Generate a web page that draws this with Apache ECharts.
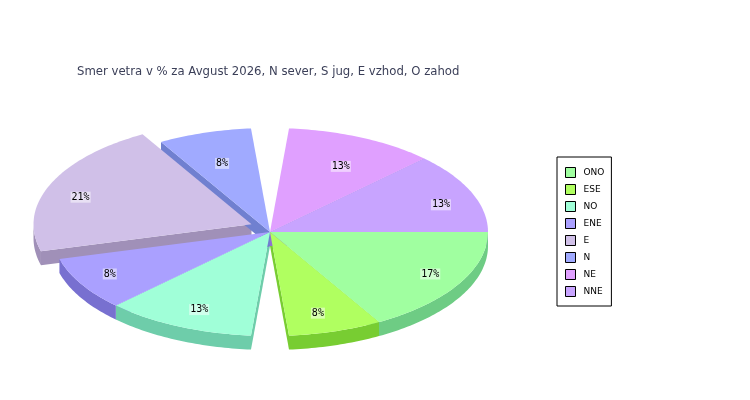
<!DOCTYPE html>
<html><head><meta charset="utf-8">
<script src="https://cdn.jsdelivr.net/npm/echarts@6/dist/echarts.min.js"></script>
<style>html,body{margin:0;padding:0;background:#fff}#c{width:750px;height:400px}</style>
</head><body><div id="c"></div>
<script>
// ---- data ----
const categories = ['ONO', 'ESE', 'NO', 'ENE', 'E', 'N', 'NE', 'NNE'];
const counts = [4, 2, 3, 2, 5, 2, 3, 3];
const titleText = 'Smer vetra v % za Avgust 2026, N sever, S jug, E vzhod, O zahod';

// ---- styles ----
const topColors = ['#a0ffa0', '#b0ff60', '#a0ffd8', '#aaa0ff', '#d0c0e8', '#a0aaff', '#e0a0ff', '#c8a4ff'];
const sideColors = ['#6ecc84', '#78cd32', '#6ecdaa', '#7870d0', '#a090b8', '#7080d0', '#a070c8', '#9070d0'];
const explode = [0, 0, 0, 0, 20, 0, 0, 0];
const PIE = { cx: 270, cy: 232, rx: 218, ry: 104, depth: 14, seam: 5, lx: 185, lyDown: 84, lyUp: 71 };

function lighten(hex, t) {
  const n = parseInt(hex.slice(1), 16);
  const r = n >> 16, g = (n >> 8) & 255, b = n & 255;
  const f = c => Math.round(c + (255 - c) * t);
  return 'rgb(' + f(r) + ',' + f(g) + ',' + f(b) + ')';
}

const total = counts.reduce((a, b) => a + b, 0);
const starts = [];
(function () { let acc = 0; counts.forEach(v => { starts.push(acc / total * 360); acc += v; }); })();

function renderSlice(params, api) {
  const i = api.value(0);
  const span = counts[i] / total * 360;
  let s = starts[i], e = starts[i] + span;
  const onSeam = a => Math.abs(a - 90) < 1e-6 || Math.abs(a - 270) < 1e-6;
  if (onSeam(s)) s += PIE.seam;
  if (onSeam(e)) e -= PIE.seam;
  const mid = starts[i] + span / 2;
  const rad = d => d * Math.PI / 180;
  const cx = PIE.cx + explode[i] * Math.cos(rad(mid));
  const cy = PIE.cy + explode[i] * Math.sin(rad(mid));
  const D = PIE.depth;
  const P = (a, dz) => [cx + PIE.rx * Math.cos(rad(a)), cy + PIE.ry * Math.sin(rad(a)) + (dz || 0)];
  const arc = (a0, a1, dz) => {
    const pts = []; const n = Math.max(2, Math.ceil(Math.abs(a1 - a0)));
    for (let k = 0; k <= n; k++) pts.push(P(a0 + (a1 - a0) * k / n, dz));
    return pts;
  };
  const children = [];
  if (Math.cos(rad(s)) < 0) children.push({ type: 'polygon', z2: 1, shape: { points: [[cx, cy], P(s), P(s, D), [cx, cy + D]] }, style: { fill: sideColors[i] } });
  if (Math.cos(rad(e)) > 0) children.push({ type: 'polygon', z2: 1, shape: { points: [[cx, cy], P(e), P(e, D), [cx, cy + D]] }, style: { fill: sideColors[i] } });
  const a0 = Math.max(s, 0), a1 = Math.min(e, 180);
  if (a1 > a0) children.push({ type: 'polygon', z2: 2, shape: { points: arc(a0, a1, 0).concat(arc(a1, a0, D)) }, style: { fill: sideColors[i] } });
  children.push({ type: 'polygon', z2: 10, shape: { points: [[cx, cy]].concat(arc(s, e, 0)) }, style: { fill: topColors[i] } });
  const m = rad(mid), sn = Math.sin(m);
  children.push({
    type: 'text', z2: 20,
    style: {
      x: cx + PIE.lx * Math.cos(m), y: cy + sn * (sn > 0 ? PIE.lyDown : PIE.lyUp),
      text: Math.round(counts[i] / total * 100) + '%',
      align: 'center', verticalAlign: 'middle',
      font: '10px "DejaVu Sans Mono"', fill: '#000',
      backgroundColor: lighten(topColors[i], 0.5), padding: [1, 1, 0, 1]
    }
  });
  return { type: 'group', children };
}

const chart = echarts.init(document.getElementById('c'), null, { renderer: 'canvas' });
chart.setOption({
  animation: false,
  backgroundColor: '#fff',
  title: {
    text: titleText, left: 77, top: 66, padding: 0,
    textStyle: { fontFamily: 'DejaVu Sans', fontSize: 11.7, fontWeight: 'normal', color: '#3b3f58' }
  },
  legend: {
    data: categories, orient: 'vertical', left: 557, top: 157,
    itemWidth: 10, itemHeight: 10, itemGap: 6, padding: [10, 7, 9, 8],
    borderColor: '#000', borderWidth: 1, icon: 'rect', selectedMode: false,
    itemStyle: { borderColor: '#000', borderWidth: 1 },
    textStyle: { fontFamily: 'DejaVu Sans', fontSize: 9, color: '#000', padding: [0, 0, 0, 3] }
  },
  series: categories.map((name, i) => ({
    type: 'custom', name, coordinateSystem: 'none', silent: true,
    itemStyle: { color: topColors[i] },
    data: [[i]], renderItem: renderSlice
  }))
});
</script></body></html>
